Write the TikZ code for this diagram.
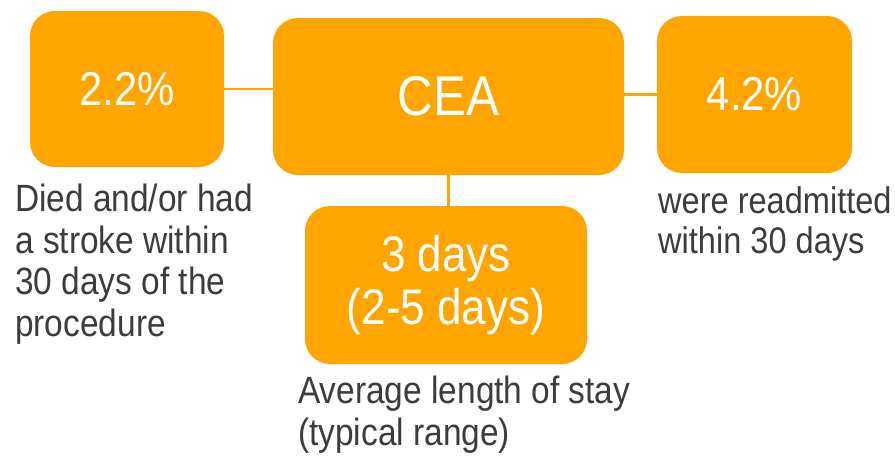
\documentclass[tikz,border=0pt]{standalone}
\usepackage{fontspec}
\setmainfont{Liberation Sans}[FakeStretch=0.88]
\usepackage{tikz}
\usetikzlibrary{calc}
\definecolor{boxorange}{HTML}{FFA500}
\definecolor{labelgray}{HTML}{3C3C3C}

\begin{document}
\begin{tikzpicture}[x=1pt,y=-1pt,
    box/.style={fill=boxorange,rounded corners=25pt,text=white,
      align=center,inner sep=0pt},
    link/.style={draw=boxorange,line width=2.5pt},
    label/.style={text=labelgray,align=left,inner sep=0pt,anchor=north west,
      font=\fontsize{38}{41.5}\selectfont}]
  \useasboundingbox (0,0) rectangle (895,458);
  \node[box,minimum width=194pt,minimum height=156pt,
    font=\fontsize{47.5}{52}\selectfont] (pctdied) at (127,89) {2.2\%};
  \node[box,minimum width=351pt,minimum height=157pt,
    font=\fontsize{56}{60}\selectfont] (cea) at (448.5,96.5) {CEA};
  \node[box,minimum width=195pt,minimum height=157pt,
    font=\fontsize{47.5}{52}\selectfont] (pctreadm) at (754.5,94.5) {4.2\%};
  \node[box,minimum width=282pt,minimum height=158pt,
    font=\fontsize{50}{52.5}\selectfont] (stay) at (446,285) {3 days\\(2-5 days)};
  \draw[link] (pctdied.east) -- (pctdied.east -| cea.west);
  \draw[link] (pctreadm.west) -- (pctreadm.west -| cea.east);
  \draw[link] (cea.south) -- (cea.south |- stay.north);
  \node[label] (died) at (15,184) {Died and/or had\\a stroke within\\30 days of the\\procedure};
  \node[label] (avg) at (298,376) {Average length of stay\\(typical range)};
  \node[label,font=\fontsize{37}{40.5}\selectfont] (readm) at (658,186)
    {were readmitted\\within 30 days};
\end{tikzpicture}
\end{document}
